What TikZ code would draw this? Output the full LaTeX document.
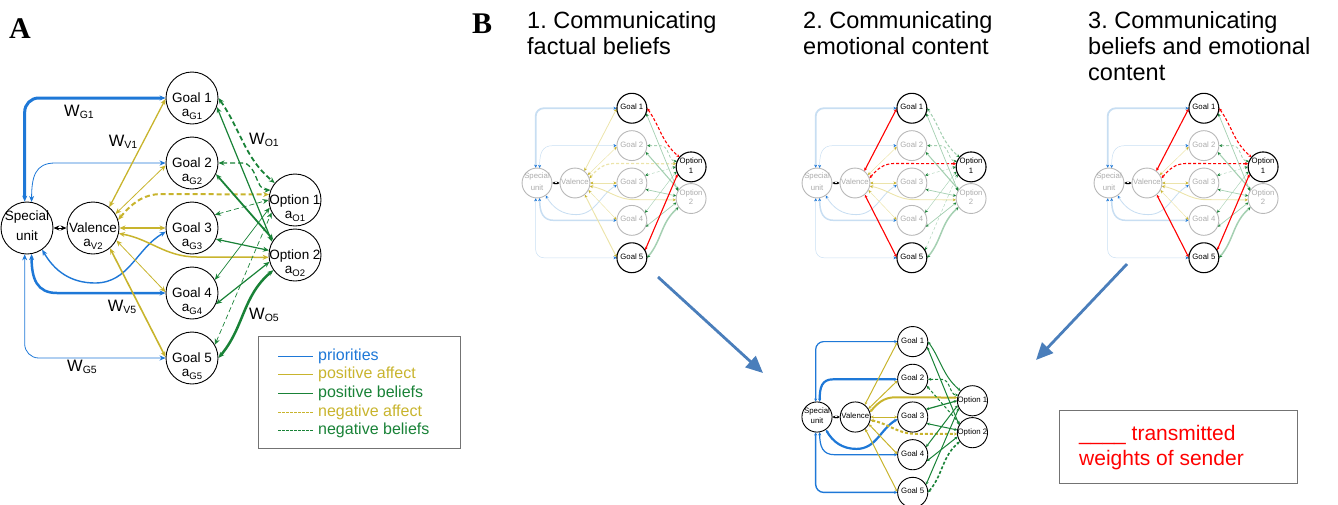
\documentclass[tikz,border=0pt]{standalone}
\usepackage{fontspec}
\setmainfont{Liberation Sans}
\newfontfamily\seriffont{Liberation Serif}
\usetikzlibrary{arrows.meta,calc}
\pgfdeclarelayer{bg}
\pgfsetlayers{bg,main}
\frenchspacing
\definecolor{cBlueD}{RGB}{30,120,215}
\definecolor{cYelD}{RGB}{200,180,45}
\definecolor{cGrnD}{RGB}{25,130,55}
\definecolor{cBlueF}{RGB}{200,222,242}
\definecolor{cYelF}{RGB}{236,228,170}
\definecolor{cGrnF}{RGB}{165,208,178}
\definecolor{cArrow}{RGB}{74,126,187}
\colorlet{cBlue}{cBlueD}\colorlet{cYel}{cYelD}\colorlet{cGrn}{cGrnD}
\colorlet{cNode}{black}\colorlet{cNodeTxt}{black}
\newcommand\ctr[1]{\raisebox{-0.25em}[0pt][0pt]{\makebox[0pt]{\begin{tabular}[c]{@{}c@{}}#1\end{tabular}}}}
\newcommand\ctrt[1]{\raisebox{-0.36em}[0pt][0pt]{\makebox[0pt]{\begin{tabular}[t]{@{}c@{}}#1\end{tabular}}}}
\newcommand\sbs[1]{\raisebox{-0.2em}{\fontsize{9.5}{10}\selectfont #1}}
\newcommand\sbw[1]{\raisebox{-0.15em}{\fontsize{10.5}{11}\selectfont #1}}
\newcommand\tS{Special\\[6pt]unit}
\newcommand\tV{Valence}
\newcommand\tG[1]{Goal #1}
\newcommand\tO[1]{Option #1}
\newcommand\wrp[1]{\ctr{#1}}
\newcommand\lwf{1}
\newcommand\tl{6pt}
\newcommand\tw{5pt}
\tikzset{
 nd/.style={circle, draw=cNode, text=cNodeTxt, fill=white, minimum size=52pt, inner sep=0pt, line width=0.9pt, font=\fontsize{13.5}{13.5}\selectfont},
 hl/.style={draw=black, text=black, line width=1.1pt},
 nS/.style={}, nV/.style={}, nG1/.style={}, nG2/.style={}, nG3/.style={}, nG4/.style={}, nG5/.style={}, nO1/.style={}, nO2/.style={},
 tipc/.style={{Stealth[length=\tl,width=\tw,color=#1]}-{Stealth[length=\tl,width=\tw,color=#1]}},
 eb/.style={draw=cBlue,tipc=cBlueD}, ey/.style={draw=cYel,tipc=cYelD}, eg/.style={draw=cGrn,tipc=cGrnD},
 er/.style={draw=red,tipc=red,line width=1.1pt},
 dsh/.style={dash pattern=on 5pt off 3pt},
 rc/.style={rounded corners=14pt},
 eSV/.style={draw=black,tipc=black,line width=1pt},
 eSG1/.style={eb,line width=\lwf*3pt},
 eSG2/.style={eb,line width=\lwf*0.8pt},
 eSG3/.style={eb,line width=\lwf*1.4pt},
 eSG4/.style={eb,line width=\lwf*2.5pt},
 eSG5/.style={eb,line width=\lwf*0.8pt},
 eVG1/.style={ey,line width=\lwf*1.3pt},
 eVG2/.style={ey,line width=\lwf*0.8pt},
 eVG3/.style={ey,line width=\lwf*1.2pt},
 eVG4/.style={ey,line width=\lwf*0.8pt},
 eVG5/.style={ey,line width=\lwf*1.6pt},
 eVO1/.style={ey,dsh,line width=\lwf*2pt},
 eVO2/.style={ey,line width=\lwf*1.5pt},
 eG1O1/.style={eg,dsh,line width=\lwf*1.8pt},
 eG1O2/.style={eg,line width=\lwf*1.2pt},
 eG2O1/.style={eg,dsh,line width=\lwf*1.3pt},
 eG2O2/.style={eg,line width=\lwf*1.8pt},
 eG3O1/.style={eg,dsh,line width=\lwf*0.7pt},
 eG3O2/.style={eg,line width=\lwf*1.2pt},
 eG4O1/.style={eg,line width=\lwf*0.7pt},
 eG4O2/.style={eg,line width=\lwf*1.2pt},
 eG5O1/.style={eg,dsh,line width=\lwf*0.7pt},
 eG5O2/.style={eg,line width=\lwf*2.5pt},
 smalltips/.code={\def\tl{3.2pt}\def\tw{3pt}},
 smallnet/.style={smalltips, rc/.style={rounded corners=8pt}, dsh/.style={dash pattern=on 3pt off 2pt}},
 wl/.style={font=\fontsize{16.5}{17}\selectfont, inner sep=0pt},
 ttl/.style={font=\fontsize{23.5}{26}\selectfont, anchor=base west, inner sep=0pt},
 lgt/.style={font=\fontsize{16}{18}\selectfont, anchor=west, inner sep=0pt},
 panel/.style={font=\seriffont\bfseries\fontsize{30}{30}\selectfont, anchor=base west, inner sep=0pt},
 bigarrow/.style={cArrow, line width=2.8pt, -{Triangle[length=17pt,width=15pt]}},
 frame/.style={draw=black!55, line width=1pt, anchor=north west, inner sep=0pt}
}
\newcommand\drawnet[1]{%
 \node[nd,nS] (#1S) at (0,0) {\ctr{\tS}};
 \node[nd,nV] (#1V) at (66,0) {\wrp{\tV}};
 \node[nd,nG1] (#1G1) at (165,130) {\wrp{\tG{1}}};
 \node[nd,nG2] (#1G2) at (165,65) {\wrp{\tG{2}}};
 \node[nd,nG3] (#1G3) at (165,0) {\wrp{\tG{3}}};
 \node[nd,nG4] (#1G4) at (165,-65) {\wrp{\tG{4}}};
 \node[nd,nG5] (#1G5) at (165,-130) {\wrp{\tG{5}}};
 \node[nd,nO1] (#1O1) at (268,28) {\wrp{\tO{1}}};
 \node[nd,nO2] (#1O2) at (268,-27) {\wrp{\tO{2}}};
 \begin{pgfonlayer}{bg}
 \draw[eSV] (#1S) -- (#1V);
 \draw[eSG1,rc] (#1S.95) |- (#1G1.west);
 \draw[eSG2] (#1S.80) .. controls +(0,25) and +(-20,0) .. (28,65) -- (#1G2.west);
 \draw[eSG3] (#1S.-55) to[out=-60,in=180] (68,-55) to[out=0,in=210] (#1G3.188);
 \draw[eSG4] (#1S.-80) .. controls +(0,-25) and +(-20,0) .. (30,-65) -- (#1G4.west);
 \draw[eSG5,rc] (#1S.-95) |- (#1G5.west);
 \draw[eVG1] (#1V.52) -- (#1G1.182);
 \draw[eVG2] (#1V.32) -- (#1G2.185);
 \draw[eVG3] (#1V.east) -- (#1G3.west);
 \draw[eVG4] (#1V.-28) -- (#1G4.178);
 \draw[eVG5] (#1V.-50) -- (#1G5.178);
 \draw[eVO1] (#1V.18) to[out=50,in=180] (135,34) -- (#1O1.168);
 \draw[eVO2] (#1V.-12) to[out=-10,in=180] (170,-29) -- (#1O2.185);
 \draw[eG1O1] (#1G1.east) to[out=-55,in=140] (#1O1.140);
 \draw[eG1O2] (#1G1.-20) -- (#1O2.150);
 \draw[eG2O1] (#1G2.east) -- (215,65) to[out=0,in=180] (#1O1.158);
 \draw[eG2O2] (#1G2.-25) -- (#1O2.145);
 \draw[eG3O1] (#1G3.30) -- (#1O1.180);
 \draw[eG3O2] (#1G3.-25) -- (#1O2.170);
 \draw[eG4O1] (#1G4.30) -- (#1O1.197);
 \draw[eG4O2] (#1G4.-25) -- (#1O2.195);
 \draw[eG5O1] (#1G5.30) -- (#1O1.-152);
 \draw[eG5O2] (#1G5.east) to[out=50,in=-140] (#1O2.-145);
 \end{pgfonlayer}
}
\newcommand\fadecolors{\colorlet{cBlue}{cBlueF}\colorlet{cYel}{cYelF}\colorlet{cGrn}{cGrnF}\colorlet{cNode}{black!28}\colorlet{cNodeTxt}{black!32}\renewcommand\lwf{0.6}}
\begin{document}
\begin{tikzpicture}[x=1pt,y=1pt]
\useasboundingbox (0,0) rectangle (1338,-504);
% panel labels
\node[panel] (labA) at (9,-38) {A};
\node[panel] (labB) at (472,-33) {B};
% titles
\node[ttl] (t1a) at (527,-28) {1. Communicating};
\node[ttl] (t1b) at (527,-54) {factual beliefs};
\node[ttl] (t2a) at (803,-28) {2. Communicating};
\node[ttl] (t2b) at (803,-54) {emotional content};
\node[ttl] (t3a) at (1088,-28) {3. Communicating};
\node[ttl] (t3b) at (1088,-54) {beliefs and emotional};
\node[ttl] (t3c) at (1088,-80) {content};
% panel A network
\begin{scope}[shift={(27,-228)}]
 \renewcommand\tV{Valence\\a\sbs{V2}}
 \renewcommand\tG[1]{Goal #1\\a\sbs{G#1}}
 \renewcommand\tO[1]{Option #1\\a\sbs{O#1}}
 \renewcommand\wrp[1]{\ctrt{#1}}
 \drawnet{a}
\end{scope}
\node[wl] (wG1) at (79,-112) {W\sbw{G1}};
\node[wl] (wV1) at (123,-142) {W\sbw{V1}};
\node[wl] (wO1) at (264,-140) {W\sbw{O1}};
\node[wl] (wV5) at (122,-307) {W\sbw{V5}};
\node[wl] (wG5) at (82,-367) {W\sbw{G5}};
\node[wl] (wO5) at (264,-315) {W\sbw{O5}};
% legend
\node[frame, minimum width=202pt, minimum height=112pt] (leg) at (258,-336) {};
\node[lgt, text=cBlueD] (l1) at (318,-356) {priorities};
\node[lgt, text=cYelD] (l2) at (318,-374) {positive affect};
\node[lgt, text=cGrnD] (l3) at (318,-393) {positive beliefs};
\node[lgt, text=cYelD] (l4) at (318,-412) {negative affect};
\node[lgt, text=cGrnD] (l5) at (318,-430) {negative beliefs};
\draw[cBlueD, line width=1pt] ([xshift=-40pt]l1.west) -- ++(35,0);
\draw[cYelD, line width=1pt] ([xshift=-40pt]l2.west) -- ++(35,0);
\draw[cGrnD, line width=1pt] ([xshift=-40pt]l3.west) -- ++(35,0);
\draw[cYelD, line width=1pt, dash pattern=on 2.5pt off 1.5pt] ([xshift=-40pt]l4.west) -- ++(35,0);
\draw[cGrnD, line width=1pt, dash pattern=on 2.5pt off 1.5pt] ([xshift=-40pt]l5.west) -- ++(35,0);
% B1
\begin{scope}[shift={(537,-183)}, scale=0.575, transform shape, smallnet,
  nG1/.style={hl}, nG5/.style={hl}, nO1/.style={hl},
  eG1O1/.style={er,dsh}, eG5O1/.style={er}]
 \fadecolors
 \renewcommand\tO[1]{Option\\[3pt]#1}
 \drawnet{b}
\end{scope}
% B2
\begin{scope}[shift={(817,-183)}, scale=0.575, transform shape, smallnet,
  nG1/.style={hl}, nG5/.style={hl}, nO1/.style={hl},
  eVG1/.style={er}, eVG5/.style={er}, eVO1/.style={er,dsh}]
 \fadecolors
 \renewcommand\tO[1]{Option\\[3pt]#1}
 \drawnet{c}
\end{scope}
% B3
\begin{scope}[shift={(1109,-183)}, scale=0.575, transform shape, smallnet,
  nG1/.style={hl}, nG5/.style={hl}, nO1/.style={hl},
  eVG1/.style={er}, eVG5/.style={er}, eVO1/.style={er,dsh},
  eG1O1/.style={er,dsh}, eG5O1/.style={er}]
 \fadecolors
 \renewcommand\tO[1]{Option\\[3pt]#1}
 \drawnet{d}
\end{scope}
% bottom network
\begin{scope}[shift={(817,-417)}, scale=0.58, transform shape, smallnet,
  eSG1/.style={eb,line width=1.2pt}, eSG2/.style={eb,line width=2.2pt},
  eSG3/.style={eb,line width=2.2pt}, eSG4/.style={eb,line width=1.2pt},
  eSG5/.style={eb,line width=1.4pt},
  eVG1/.style={ey,line width=1pt}, eVG2/.style={ey,line width=1pt},
  eVG3/.style={ey,line width=1pt}, eVG4/.style={ey,line width=1pt},
  eVG5/.style={ey,line width=1pt},
  eVO1/.style={ey,line width=2pt}, eVO2/.style={ey,dsh,line width=2pt},
  eG1O1/.style={eg,line width=1pt}, eG1O2/.style={eg,line width=1pt},
  eG2O1/.style={eg,dsh,line width=1pt}, eG2O2/.style={eg,dsh,line width=1pt},
  eG3O1/.style={eg,line width=1.2pt}, eG3O2/.style={eg,line width=1pt},
  eG4O1/.style={eg,line width=1pt}, eG4O2/.style={eg,line width=1pt},
  eG5O1/.style={eg,line width=1pt}, eG5O2/.style={eg,dsh,line width=1.6pt}]
 \renewcommand\tS{Special\\[3pt]unit}
 \drawnet{e}
\end{scope}
% big arrows
\coordinate (a1s) at (658,-277);
\coordinate (a1e) at (763,-373);
\coordinate (a2s) at (1127,-264);
\coordinate (a2e) at (1036,-360);
\draw[bigarrow] (a1s) -- (a1e);
\draw[bigarrow] (a2s) -- (a2e);
% red box
\node[frame, minimum width=238pt, minimum height=73pt] (rbox) at (1059,-410) {};
\node[font=\fontsize{21}{24}\selectfont, text=red, anchor=base west, inner sep=0pt] (r1) at (1079,-440) {\_\_\_\_ transmitted};
\node[font=\fontsize{21}{24}\selectfont, text=red, anchor=base west, inner sep=0pt] (r2) at (1079,-465) {weights of sender};
\end{tikzpicture}
\end{document}
